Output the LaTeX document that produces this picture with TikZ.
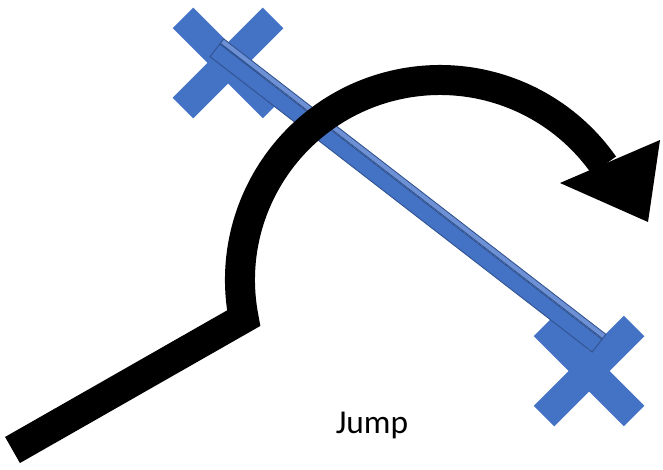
\documentclass[tikz,border=0pt]{standalone}
\usepackage{fontspec}
\setmainfont{Carlito}
\usepackage{tikz}
\usetikzlibrary{calc}

\definecolor{xblue}{RGB}{68,114,196}
\definecolor{xblueedge}{RGB}{47,82,143}
\definecolor{xbluelight}{RGB}{110,145,214}

\begin{document}
\begin{tikzpicture}[
  crossarm/.style={
    rectangle,
    fill=xblue,
    minimum width=2.55cm,
    minimum height=0.58cm,
    inner sep=0pt,
  },
  barface/.style={
    rectangle,
    draw=xblueedge,
    fill=#1,
    line width=0.5pt,
    minimum width=9.66cm,
    inner sep=0pt,
    rotate=-37.7,
  },
  barface/.default=xblue,
  jumpline/.style={black, line width=0.6cm, line join=miter, line cap=butt},
  caption/.style={font=\fontsize{19}{22}\selectfont, inner sep=0pt},
]
\useasboundingbox (0,0) rectangle (13.26,9.38);

% ── Crosses at both ends ──
\node[crossarm, rotate=45] (topxa) at (4.56,8.12) {};
\node[crossarm, rotate=-45] (topxb) at (4.56,8.12) {};
\node[crossarm, rotate=45] (botxa) at (11.78,1.96) {};
\node[crossarm, rotate=-45] (botxb) at (11.78,1.96) {};

% ── Bar ──
\node[barface, minimum height=0.32cm] (bar) at (8.12,5.42) {};
\node[barface=xbluelight, minimum height=0.11cm, anchor=south] (bartop) at (bar.north) {};

% ── Jump arrow ──
\coordinate (start) at (0.25,0.38);
\coordinate (arcc) at (8.8,3.78);
\coordinate (kink) at ($(arcc)+(191:4)$);
\coordinate (headl) at (11.2,5.72);
\coordinate (headr) at (13.2,6.58);
\coordinate (tip) at (12.96,4.94);

\draw[jumpline] (start) -- (kink) arc[start angle=191, end angle=35, radius=4cm];
\fill[black] (headl) -- (tip) -- (headr) -- cycle;

% ── Label ──
\node[caption, anchor=base] (jump) at (7.44,0.72) {Jump};

\end{tikzpicture}
\end{document}
